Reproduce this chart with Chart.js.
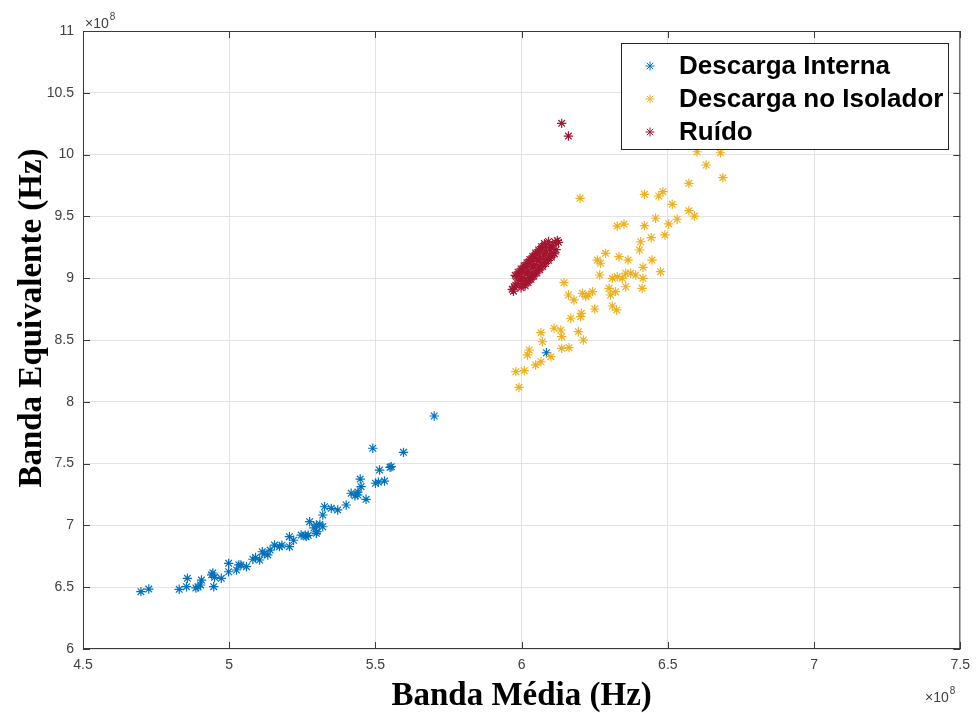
<!DOCTYPE html>
<html>
<head>
<meta charset="utf-8">
<script src="https://cdn.jsdelivr.net/npm/chart.js@4.4.0/dist/chart.umd.min.js"></script>
<style>
  html, body { margin: 0; padding: 0; background: #fff; }
  #wrap { width: 978px; height: 713px; }
</style>
</head>
<body>
<div id="wrap"><canvas id="chart" width="978" height="713"></canvas></div>
<script>
// values are in units of 1e8 Hz (axis multiplier shown as x10^8)
const seriesNames = ["Descarga Interna", "Descarga no Isolador", "Ruído"];
const seriesColors = ["#0072BD", "#EDB120", "#A2142F"];
const xTicks = [4.5, 5, 5.5, 6, 6.5, 7, 7.5];
const yTicks = [6, 6.5, 7, 7.5, 8, 8.5, 9, 9.5, 10, 10.5, 11];
const xTitle = "Banda Média (Hz)";
const yTitle = "Banda Equivalente (Hz)";
const multiplier = ["×10", "8"];

const internaX = [4.698, 4.725, 4.829, 4.857, 4.854, 4.886, 4.893, 4.905, 4.902, 4.944,
  4.947, 4.973, 4.998, 4.998, 5.025, 5.033, 5.059, 5.081, 5.104, 5.113,
  5.132, 5.155, 5.172, 5.206, 5.206, 5.246, 5.263, 5.275, 5.298, 5.320,
  5.298, 5.326, 5.349, 5.371, 5.400, 5.320, 5.417, 5.440, 5.448, 5.451,
  5.468, 5.491, 5.500, 5.514, 5.531, 5.554, 5.596, 5.701, 6.085,
  4.950, 4.940, 5.040, 5.090, 5.120, 5.140, 5.180, 5.220, 5.260, 5.270,
  5.290, 5.310, 5.300, 5.430, 5.440, 5.550, 5.510];
const internaY = [6.464, 6.485, 6.483, 6.572, 6.504, 6.494, 6.502, 6.558, 6.518, 6.615,
  6.504, 6.572, 6.693, 6.625, 6.639, 6.680, 6.666, 6.726, 6.720, 6.787,
  6.761, 6.841, 6.828, 6.909, 6.828, 6.922, 6.909, 7.030, 7.003, 6.989,
  6.936, 7.151, 7.138, 7.125, 7.165, 7.084, 7.260, 7.246, 7.375, 7.313,
  7.211, 7.624, 7.341, 7.448, 7.359, 7.475, 7.591, 7.885, 8.397,
  6.580, 6.600, 6.680, 6.740, 6.770, 6.800, 6.840, 6.880, 6.920, 6.920,
  6.980, 7.010, 6.950, 7.240, 7.270, 7.470, 7.350];

const isoladorX = [6.600, 6.680, 6.631, 6.688, 6.572, 6.420, 6.469, 6.483, 6.515, 6.572,
  6.591, 6.200, 6.327, 6.350, 6.420, 6.458, 6.503, 6.532, 6.490, 6.443,
  6.407, 6.403, 6.446, 6.475, 6.415, 6.415, 6.412, 6.364, 6.333, 6.287,
  6.259, 6.270, 6.267, 6.310, 6.327, 6.356, 6.373, 6.390, 6.344, 6.356,
  6.321, 6.299, 6.304, 6.145, 6.160, 6.179, 6.208, 6.230, 6.242, 6.219,
  6.250, 6.310, 6.325, 6.204, 6.202, 6.168, 6.194, 6.211, 6.066, 6.071,
  6.111, 6.134, 6.137, 6.137, 6.162, 6.026, 6.020, 6.066, 6.048, 6.100,
  5.980, 6.009, 5.991];
const isoladorY = [10.023, 10.015, 9.916, 9.813, 9.768, 9.679, 9.665, 9.700, 9.598, 9.546,
  9.503, 9.646, 9.422, 9.438, 9.425, 9.485, 9.439, 9.477, 9.350, 9.328,
  9.295, 9.228, 9.147, 9.053, 9.088, 8.999, 8.918, 9.147, 9.174, 9.201,
  9.147, 9.121, 9.026, 8.999, 9.012, 9.040, 9.040, 9.026, 8.999, 8.931,
  8.891, 8.918, 8.864, 8.964, 8.864, 8.824, 8.878, 8.864, 8.891, 8.851,
  8.751, 8.775, 8.743, 8.716, 8.689, 8.676, 8.567, 8.500, 8.559, 8.486,
  8.595, 8.581, 8.527, 8.433, 8.438, 8.419, 8.379, 8.324, 8.298, 8.365,
  8.244, 8.252, 8.117];

const ruidoX = [5.968, 5.972, 5.975, 5.980, 5.985, 5.995, 6.000, 6.005, 6.015, 6.020,
  6.025, 6.035, 6.040, 6.045, 6.055, 6.060, 6.065, 6.075, 6.080, 6.085,
  6.095, 6.100, 6.105, 6.115, 6.122, 6.126,
  5.982, 5.992, 6.002, 6.012, 6.022, 6.032, 6.042, 6.052, 6.062, 6.072,
  6.082, 6.092,
  5.998, 6.008, 6.018, 6.028, 6.038, 6.048, 6.058, 6.068, 6.078, 6.088,
  6.098, 6.108, 6.118,
  5.978, 5.988, 5.998, 6.008, 6.018, 6.028, 6.038, 6.048, 6.058, 6.068, 6.078,
  6.012, 6.022, 6.032, 6.042, 6.052, 6.062, 6.072, 6.082, 6.092, 6.102, 6.112,
  6.137, 6.160];
const ruidoY = [8.910, 8.895, 8.930, 8.943, 8.956, 8.981, 8.994, 9.007, 9.033, 9.045,
  9.058, 9.084, 9.097, 9.110, 9.136, 9.148, 9.161, 9.187, 9.200, 9.213,
  9.238, 9.251, 9.264, 9.290, 9.305, 9.290,
  9.014, 9.040, 9.066, 9.091, 9.117, 9.143, 9.169, 9.194, 9.220, 9.246,
  9.271, 9.297,
  8.923, 8.948, 8.974, 9.000, 9.025, 9.051, 9.077, 9.103, 9.128, 9.154,
  9.180, 9.205, 9.231,
  9.023, 9.049, 9.075, 9.100, 9.126, 9.152, 9.178, 9.203, 9.229, 9.255, 9.280,
  8.939, 8.965, 8.991, 9.016, 9.042, 9.068, 9.094, 9.119, 9.145, 9.171, 9.196,
  10.253, 10.150];

const toPoints = (xs, ys) => xs.map((x, i) => ({ x: x, y: ys[i] }));
const axisColor = "#3a3a3a";

const matlabFrame = {
  id: "matlabFrame",
  afterDraw(chart) {
    const ctx = chart.ctx;
    const a = chart.chartArea;
    const xs = chart.scales.x, ys = chart.scales.y;
    ctx.save();
    // box + inward ticks
    ctx.strokeStyle = axisColor;
    ctx.lineWidth = 1;
    ctx.strokeRect(a.left + 0.5, a.top + 0.5, a.right - a.left - 1, a.bottom - a.top - 1);
    ctx.beginPath();
    const tl = 7;
    xTicks.forEach(v => {
      const px = Math.round(xs.getPixelForValue(v)) + 0.5;
      ctx.moveTo(px, a.bottom); ctx.lineTo(px, a.bottom - tl);
      ctx.moveTo(px, a.top); ctx.lineTo(px, a.top + tl);
    });
    yTicks.forEach(v => {
      const py = Math.round(ys.getPixelForValue(v)) + 0.5;
      ctx.moveTo(a.left, py); ctx.lineTo(a.left + tl, py);
      ctx.moveTo(a.right, py); ctx.lineTo(a.right - tl, py);
    });
    ctx.stroke();

    // axis titles
    ctx.fillStyle = "#000";
    ctx.font = "bold 33px 'Liberation Serif', 'Times New Roman', serif";
    ctx.textAlign = "center";
    ctx.textBaseline = "alphabetic";
    ctx.fillText(xTitle, (a.left + a.right) / 2, 705);
    ctx.save();
    ctx.translate(41, 318);
    ctx.rotate(-Math.PI / 2);
    ctx.fillText(yTitle, 0, 0);
    ctx.restore();

    // x10^8 multipliers
    ctx.fillStyle = "#404040";
    ctx.textAlign = "left";
    ctx.font = "14px 'Liberation Sans', Arial, sans-serif";
    ctx.fillText(multiplier[0], 85, 28);
    ctx.fillText(multiplier[0], 925, 702);
    const w = ctx.measureText(multiplier[0]).width;
    ctx.font = "10px 'Liberation Sans', Arial, sans-serif";
    ctx.fillText(multiplier[1], 85 + w + 1, 20);
    ctx.fillText(multiplier[1], 925 + w + 1, 694);

    // legend box inside the axes
    const bx = 621, by = 43, bw = 327, bh = 106;
    ctx.fillStyle = "#fff";
    ctx.fillRect(bx, by, bw, bh);
    ctx.strokeStyle = "#262626";
    ctx.strokeRect(bx + 0.5, by + 0.5, bw, bh);
    ctx.font = "bold 26px 'Liberation Sans', Arial, sans-serif";
    ctx.textBaseline = "middle";
    chart.data.datasets.forEach((ds, i) => {
      const ry = 66 + i * 33;
      ctx.strokeStyle = ds.borderColor;
      ctx.fillStyle = ds.borderColor;
      Chart.helpers.drawPoint(ctx, { pointStyle: "star", radius: 4.5, rotation: 0, borderWidth: 1 }, 650, ry);
      ctx.fillStyle = "#000";
      ctx.fillText(ds.label, 679, ry + 1);
    });
    ctx.restore();
  }
};

const makeSet = (i, xs, ys, order) => ({
  label: seriesNames[i],
  data: toPoints(xs, ys),
  borderColor: seriesColors[i],
  backgroundColor: seriesColors[i],
  pointStyle: "star",
  pointRadius: 4.7,
  pointHoverRadius: 4.7,
  pointBorderWidth: 1.2,
  order: order
});

new Chart(document.getElementById("chart").getContext("2d"), {
  type: "scatter",
  data: {
    datasets: [
      makeSet(0, internaX, internaY, 2),
      makeSet(1, isoladorX, isoladorY, 1),
      makeSet(2, ruidoX, ruidoY, 0)
    ]
  },
  options: {
    responsive: false,
    animation: false,
    layout: { padding: { top: 31, right: 16, left: 0, bottom: 0 } },
    plugins: { legend: { display: false }, tooltip: { enabled: false } },
    scales: {
      x: {
        type: "linear",
        min: 4.5,
        max: 7.5,
        afterBuildTicks: s => { s.ticks = xTicks.map(v => ({ value: v })); },
        afterFit: s => { s.height = 64; },
        grid: { color: "#e3e3e3", drawTicks: false },
        border: { display: false },
        ticks: {
          padding: 8,
          color: "#404040",
          font: { family: "'Liberation Sans', Arial, sans-serif", size: 14 },
          callback: v => String(v)
        }
      },
      y: {
        type: "linear",
        min: 6,
        max: 11,
        afterBuildTicks: s => { s.ticks = yTicks.map(v => ({ value: v })); },
        afterFit: s => { s.width = 83; },
        grid: { color: "#e3e3e3", drawTicks: false },
        border: { display: false },
        ticks: {
          padding: 9,
          color: "#404040",
          font: { family: "'Liberation Sans', Arial, sans-serif", size: 14 },
          callback: v => String(v)
        }
      }
    }
  },
  plugins: [matlabFrame]
});
</script>
</body>
</html>
